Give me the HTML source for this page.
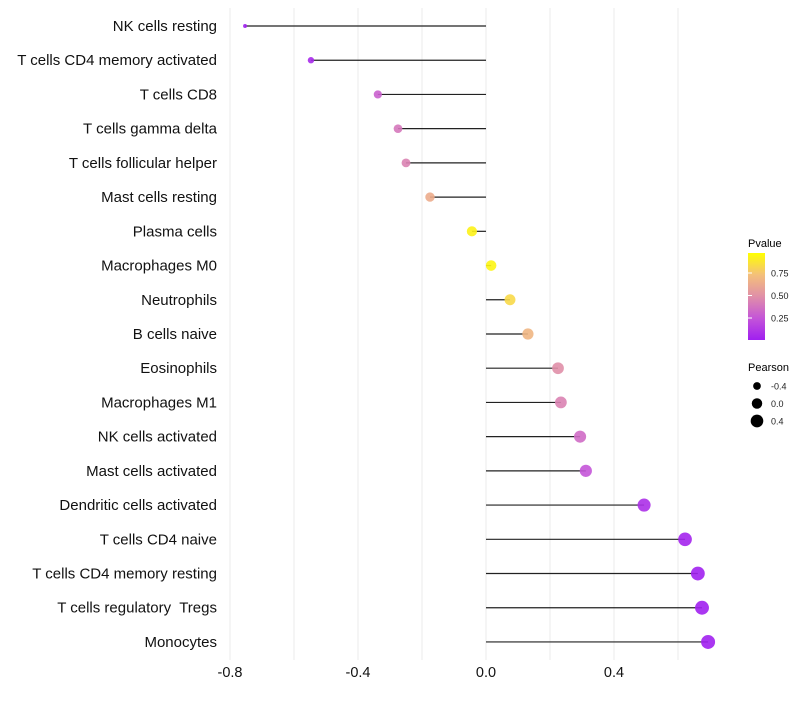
<!DOCTYPE html>
<html><head><meta charset="utf-8"><style>
body{margin:0;background:#fff;font-family:"Liberation Sans",sans-serif}
text{white-space:pre}
</style></head><body>
<svg id="chart" width="800" height="700" xmlns="http://www.w3.org/2000/svg">
<defs><linearGradient id="pg" x1="0" y1="1" x2="0" y2="0">
<stop offset="0" stop-color="#a01ff0"/><stop offset="0.25" stop-color="#c455d8"/><stop offset="0.5" stop-color="#e08fa8"/><stop offset="0.75" stop-color="#f4c07a"/><stop offset="1" stop-color="#ffff00"/></linearGradient></defs>
<g id="grid"></g><g id="marks"></g><g id="labels"></g>
<g font-size="10">
<text x="748" y="247" font-size="11">Pvalue</text>
<rect x="748" y="253" width="17" height="87" fill="url(#pg)"/>
<g id="cbticks"></g>
<text x="748" y="371" font-size="11">Pearson</text>
<g id="sizeleg"></g>
</g>
</svg>
<script>
const categories=["NK cells resting","T cells CD4 memory activated","T cells CD8","T cells gamma delta","T cells follicular helper","Mast cells resting","Plasma cells","Macrophages M0","Neutrophils","B cells naive","Eosinophils","Macrophages M1","NK cells activated","Mast cells activated","Dendritic cells activated","T cells CD4 naive","T cells CD4 memory resting","T cells regulatory  Tregs","Monocytes"];
const pearson=[-0.753,-0.547,-0.338,-0.275,-0.25,-0.175,-0.044,0.016,0.075,0.131,0.225,0.234,0.294,0.312,0.494,0.622,0.662,0.675,0.694];
const pvalues=[0.01,0.05,0.3,0.4,0.45,0.65,0.95,0.96,0.85,0.7,0.5,0.45,0.35,0.25,0.08,0.03,0.01,0.01,0.01];
const xTicks=[-0.8,-0.4,0.0,0.4];
const xTickLabels=["-0.8","-0.4","0.0","0.4"];
const cbTicks=[0.25,0.5,0.75];
const sizeLegend=[-0.4,0.0,0.4];
const NS="http://www.w3.org/2000/svg";
const x=v=>486+320*v;
const y=i=>26+i*34.22;
const r=v=>Math.sqrt(Math.max(1,27.4+31.25*v));
const stops=[[0,[160,31,240]],[0.25,[196,85,216]],[0.5,[224,143,168]],[0.75,[244,192,122]],[1,[255,255,0]]];
function col(p){for(let k=1;k<stops.length;k++){if(p<=stops[k][0]||k==stops.length-1){const a=stops[k-1],b=stops[k];const t=Math.min(1,Math.max(0,(p-a[0])/(b[0]-a[0])));const c=a[1].map((v,j)=>Math.round(v+(b[1][j]-v)*t));return `rgb(${c})`;}}}
function el(t,at,parent,txt){const e=document.createElementNS(NS,t);for(const k in at)e.setAttribute(k,at[k]);if(txt!=null)e.textContent=txt;document.getElementById(parent).appendChild(e);return e;}
for(let g=-0.8;g<=0.61;g+=0.2){const e=el('line',{x1:x(g),x2:x(g),y1:8,y2:660,stroke:'#ebebeb','stroke-width':1},'grid');

}
xTicks.forEach((t,i)=>{const e=el('text',{x:x(t),y:677,'text-anchor':'middle','font-size':14.5,fill:'#111'},'labels',xTickLabels[i]);

});
categories.forEach((c,i)=>{
const t=el('text',{x:217,y:y(i)+5,'text-anchor':'end','font-size':15,fill:'#111'},'labels',c);


const l=el('line',{x1:x(0),x2:x(pearson[i]),y1:y(i),y2:y(i),stroke:'#222','stroke-width':1.2},'marks');


const p=el('circle',{cx:x(pearson[i]),cy:y(i),r:r(pearson[i]),fill:col(pvalues[i]),'fill-opacity':0.9},'marks');


});
cbTicks.forEach(t=>{const yy=340.5-90*t;
const ln=el('line',{x1:748,x2:752,y1:yy,y2:yy,stroke:'#fff'},'cbticks');


const tx=el('text',{x:771,y:yy+3.5,'font-size':9,fill:'#222'},'cbticks',t.toFixed(2));

});
sizeLegend.forEach((s,i)=>{const yy=386+i*17.5;
const c=el('circle',{cx:757,cy:yy,r:r(s),fill:'#000'},'sizeleg');


const tx=el('text',{x:771,y:yy+3.5,'font-size':9,fill:'#222'},'sizeleg',s.toFixed(1));

});
</script>
</body></html>
